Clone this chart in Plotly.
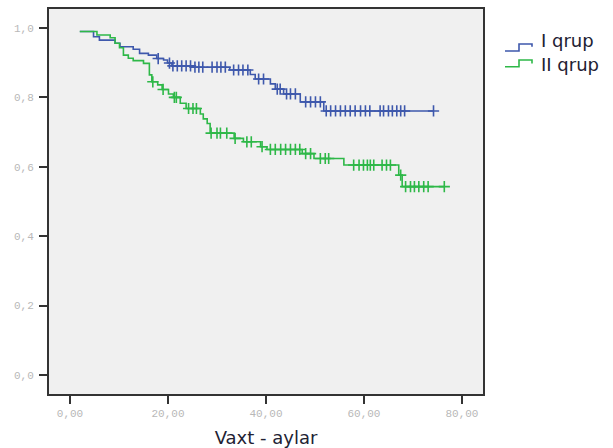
import plotly.graph_objects as go

# Kaplan-Meier estimates per group: event times (months) and survival after each event
start_time = 2.0
start_surv = 0.99

group1_name = "I qrup"
group1_times = [4.8, 6.0, 9.2, 10.2, 12.9, 14.2, 16.0, 17.7, 19.1, 19.9, 20.8, 25.1,
                32.6, 36.8, 37.8, 40.9, 41.9, 43.6, 47.0, 51.8]
group1_surv = [0.975, 0.965, 0.956, 0.946, 0.939, 0.927, 0.922, 0.912, 0.908, 0.899, 0.891,
               0.887, 0.879, 0.866, 0.853, 0.839, 0.824, 0.810, 0.787, 0.761]
group1_censored = [18.0, 20.3, 21.0, 21.9, 22.8, 23.7, 24.6, 25.5, 26.3, 27.1, 29.0, 30.0,
                   30.8, 31.7, 33.4, 34.4, 35.3, 36.3, 38.5, 39.5, 42.3, 42.9, 44.2, 45.0,
                   46.0, 48.1, 49.1, 50.1, 51.1, 52.3, 53.2, 54.2, 55.2, 56.2, 57.2, 58.2,
                   59.3, 60.3, 61.2, 63.3, 64.0, 65.0, 65.8, 66.7, 67.5, 68.3, 74.2]

group2_name = "II qrup"
group2_times = [5.5, 8.2, 9.2, 10.1, 10.9, 11.9, 12.9, 15.0, 16.2, 16.7, 17.9, 18.8, 20.1,
                21.1, 22.5, 23.7, 26.6, 27.2, 28.0, 28.6, 33.5, 35.4, 38.9, 40.2, 47.4,
                49.8, 55.9, 67.1, 67.8]
group2_surv = [0.980, 0.972, 0.956, 0.943, 0.922, 0.913, 0.906, 0.898, 0.865, 0.845, 0.836,
               0.823, 0.810, 0.800, 0.783, 0.768, 0.752, 0.738, 0.725, 0.697, 0.682, 0.672,
               0.658, 0.650, 0.638, 0.624, 0.605, 0.576, 0.543]
group2_censored = [16.9, 19.0, 21.3, 21.7, 24.2, 25.1, 25.8, 28.8, 30.0, 30.7, 32.0, 33.7,
                   36.1, 37.0, 39.2, 40.9, 41.9, 43.0, 44.0, 45.0, 46.0, 46.9, 48.1, 49.1,
                   51.1, 52.1, 52.8, 57.9, 59.0, 59.9, 60.7, 61.3, 62.0, 63.7, 64.6, 65.4,
                   67.5, 68.5, 69.5, 70.3, 71.2, 72.2, 73.1, 76.4]

x_ticks = [0, 20, 40, 60, 80]
x_tick_labels = ["0,00", "20,00", "40,00", "60,00", "80,00"]
y_ticks = [0.0, 0.2, 0.4, 0.6, 0.8, 1.0]
y_tick_labels = ["0,0", "0,2", "0,4", "0,6", "0,8", "1,0"]
x_title = "Vaxt - aylar"

BLUE = "#3e58ac"
GREEN = "#2eb848"


def surv_at(t, times, surv):
    s = start_surv
    for ti, si in zip(times, surv):
        if ti <= t:
            s = si
    return s


def add_group(fig, name, times, surv, censored, color):
    end_time = max(censored[-1], times[-1])
    xs = [start_time] + times + [end_time]
    ys = [start_surv] + surv + [surv[-1]]
    fig.add_trace(go.Scatter(x=xs, y=ys, mode="lines", name=name,
                             line=dict(color=color, width=1.6, shape="hv"),
                             showlegend=False, hoverinfo="skip"))
    fig.add_trace(go.Scatter(x=censored, y=[surv_at(t, times, surv) for t in censored],
                             mode="markers", name=name + " censored", showlegend=False,
                             marker=dict(symbol="cross-thin", size=8,
                                         line=dict(color=color, width=1.6))))


fig = go.Figure()
add_group(fig, group1_name, group1_times, group1_surv, group1_censored, BLUE)
add_group(fig, group2_name, group2_times, group2_surv, group2_censored, GREEN)

W, H = 613, 448
ML, MR, MT, MB = 49, 130, 9, 54
PW, PH = W - ML - MR, H - MT - MB


def paper(px, py):
    return (px - ML) / PW, (H - MB - py) / PH


# Step-shaped legend keys with their labels
legend_rows = [(group1_name, BLUE, 51.0, 44.0, 46.7, 40.5),
               (group2_name, GREEN, 66.7, 60.0, 63.5, 64.0)]
for label, color, y_low, y_high, y_end, y_text in legend_rows:
    pts = [paper(505, y_low), paper(519, y_low), paper(519, y_high),
           paper(532, y_high), paper(532, y_end)]
    path = "M " + " L ".join(f"{x},{y}" for x, y in pts)
    fig.add_shape(type="path", path=path, xref="paper", yref="paper",
                  line=dict(color=color, width=1.6))
    tx, ty = paper(539, y_text)
    fig.add_annotation(x=tx, y=ty, xref="paper", yref="paper", text=label,
                       showarrow=False, xanchor="left", yanchor="middle",
                       font=dict(family="DejaVu Sans", size=18, color="#222233"))

axis_common = dict(showline=True, linecolor="#333333", linewidth=2, mirror=True,
                   ticks="outside", ticklen=8, tickwidth=2, tickcolor="#333333",
                   showgrid=False, zeroline=False, automargin=False,
                   tickfont=dict(family="Liberation Mono", size=11, color="#b8b8b8"))

fig.update_layout(
    width=W, height=H,
    margin=dict(l=ML, r=MR, t=MT, b=MB),
    paper_bgcolor="white",
    plot_bgcolor="#f0f0f0",
    xaxis=dict(range=[-4.29, 84.3], tickvals=x_ticks, ticktext=x_tick_labels,
               title=dict(text=x_title, standoff=14,
                          font=dict(family="DejaVu Sans", size=18, color="#222233")),
               **axis_common),
    yaxis=dict(range=[-0.0548, 1.0548], tickvals=y_ticks, ticktext=y_tick_labels,
               ticklabelstandoff=3, **axis_common),
)

fig.write_html("out.html")
